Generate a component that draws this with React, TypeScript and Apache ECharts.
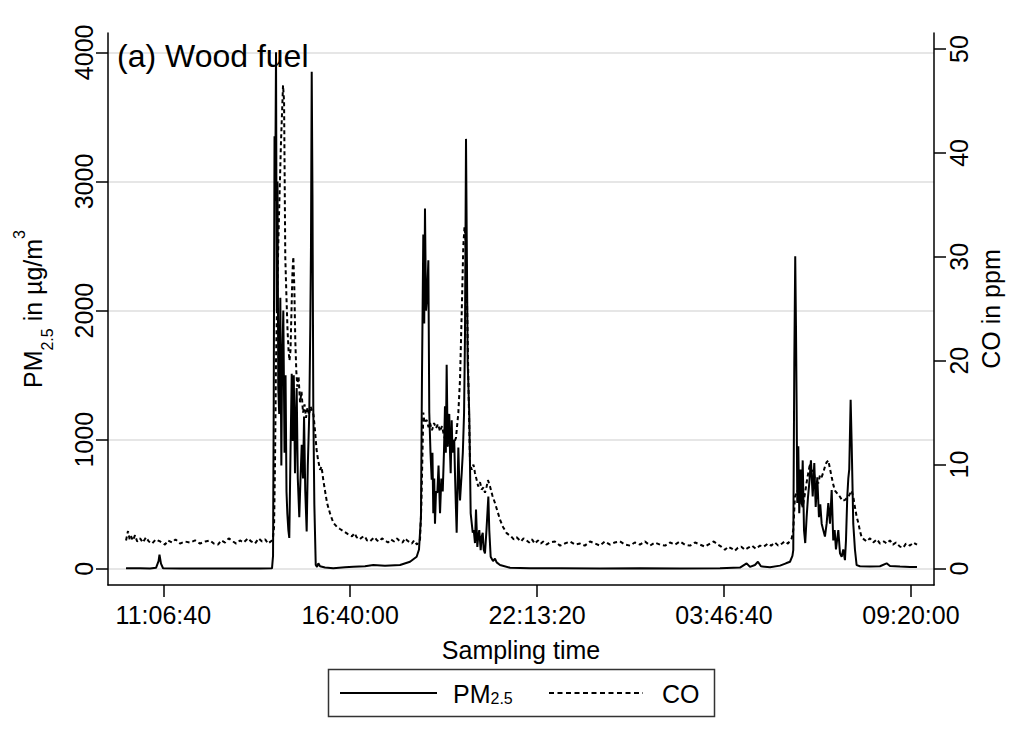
import React, { useEffect, useRef } from "react";
import * as echarts from "echarts";

const FONT = "'Liberation Sans', Arial, Helvetica, sans-serif";

// [sampling time in seconds after midnight of the first day (values above 86400 are on the next day), PM2.5 in µg/m3]
const pmPoints = [
  [36010, 5], [37510, 4], [38580, 3], [39220, 8], [39490, 60], [39590, 110], [39750, 40], [39970, 5],
  [41790, 3], [43930, 2], [47140, 3], [50350, 3], [51630, 4], [51740, 100], [51810, 1200], [51900, 3350],
  [51970, 2850], [52060, 4000], [52140, 2000], [52220, 3000], [52300, 1400], [52400, 1200], [52520, 2100],
  [52630, 800], [52700, 1500], [52840, 2000], [52970, 900], [53080, 1500], [53180, 600], [53270, 430],
  [53380, 300], [53480, 240], [53610, 900], [53740, 1510], [53850, 990], [53960, 1500], [54090, 740],
  [54200, 1200], [54270, 1400], [54390, 700], [54550, 400], [54680, 700], [54810, 960], [54950, 700],
  [55060, 1180], [55190, 600], [55340, 290], [55460, 800], [55620, 1210], [55730, 1900], [55800, 2490],
  [55880, 3850], [55960, 2900], [56050, 1240], [56160, 500], [56310, 30], [56450, 15], [56590, 43],
  [56770, 20], [57300, 10], [58190, 4], [59440, 12], [60330, 16], [61580, 20], [62470, 29], [63720, 25],
  [65330, 30], [66400, 55], [67110, 94], [67360, 150],
  [67570, 400], [67680, 1500], [67820, 2590], [67920, 1900], [68000, 2790], [68110, 2000], [68220, 2100],
  [68360, 2390], [68460, 1210], [68590, 900], [68720, 690], [68800, 900], [68890, 430], [68990, 700],
  [69070, 350], [69180, 600], [69320, 590], [69450, 800], [69610, 430], [69750, 700], [69900, 600],
  [70030, 900], [70140, 1260], [70230, 900], [70320, 1580], [70430, 950], [70520, 1100], [70600, 1200],
  [70680, 900], [70750, 740], [70860, 1150], [70940, 900], [71030, 950], [71130, 1000], [71210, 740],
  [71300, 500], [71390, 280], [71480, 600], [71570, 940], [71660, 700], [71750, 530], [71850, 650],
  [71930, 740], [72050, 900], [72180, 1200], [72280, 1800], [72390, 3330], [72470, 2550], [72570, 1600],
  [72740, 1200], [72890, 430], [73110, 280], [73220, 300], [73350, 200], [73460, 460], [73600, 170],
  [73700, 250], [73810, 300], [73960, 145], [74070, 250], [74180, 280], [74280, 150], [74420, 120],
  [74580, 300], [74780, 560], [74880, 300], [75030, 94], [75280, 60], [75490, 80], [75670, 50],
  [76030, 30], [77100, 9], [79240, 5], [82450, 4], [86730, 3], [91010, 4], [95290, 3], [99570, 5],
  [101710, 10], [102420, 43], [102780, 15], [103310, 30], [103630, 55], [103950, 20], [104920, 12],
  [105990, 25], [106630, 43], [107060, 55], [107320, 100],
  [107410, 145], [107520, 1590], [107620, 2420], [107700, 1880], [107770, 1260], [107840, 510],
  [107950, 950], [108050, 430], [108200, 770], [108310, 500], [108420, 840], [108560, 300], [108690, 200],
  [108840, 400], [108980, 550], [109120, 660], [109300, 840], [109490, 560], [109660, 820], [109810, 480],
  [109980, 710], [110160, 400], [110300, 500], [110450, 350], [110620, 300], [110800, 250], [110980, 350],
  [111160, 510], [111340, 350], [111520, 610], [111690, 220], [111840, 300], [111980, 150], [112230, 300],
  [112410, 120], [112590, 94], [112760, 150], [112940, 68], [113050, 220], [113190, 560], [113300, 700],
  [113400, 770], [113550, 1310], [113660, 970], [113830, 350], [114010, 150], [114190, 29], [114550, 20],
  [115620, 18], [116690, 20], [117400, 43], [117760, 22], [118830, 18], [119900, 15], [120650, 14],
];

// [sampling time in seconds, CO in ppm]
const coPoints = [
  [36010, 2.7], [36220, 3.6], [36400, 2.8], [36540, 3.1], [36750, 2.7], [36970, 3.2], [37200, 2.6],
  [37510, 2.9], [37800, 2.5], [38150, 3.0], [38450, 2.6], [38790, 2.4], [39200, 2.8], [39650, 2.6],
  [40180, 2.3], [40500, 2.7], [40930, 2.5], [41300, 2.8], [41790, 2.4], [42300, 2.6], [42860, 2.5],
  [43400, 2.7], [43930, 2.4], [44500, 2.6], [45000, 2.7], [45400, 2.4], [45850, 2.3], [46200, 2.7],
  [46600, 2.5], [47000, 2.9], [47460, 2.6], [47800, 2.4], [48210, 2.7], [48600, 2.5], [49060, 2.9],
  [49400, 2.6], [49810, 2.4], [50200, 2.9], [50560, 2.6], [50900, 2.8], [51200, 2.4], [51630, 2.7],
  [51740, 3.0], [51850, 4], [51950, 10], [52060, 20], [52220, 28], [52380, 34], [52590, 41], [52810, 46.5],
  [52920, 45], [53050, 30], [53180, 26], [53290, 23], [53400, 21], [53500, 20], [53610, 21], [53720, 25],
  [53820, 28.5], [53910, 30], [54020, 27], [54120, 22], [54230, 19], [54340, 17.5], [54470, 18.5],
  [54630, 16], [54790, 17], [54950, 15], [55110, 15.8], [55270, 14.5], [55430, 15.5], [55590, 14.8],
  [55750, 15.6], [55910, 15.2], [56070, 14.8], [56230, 13.3], [56390, 11.5], [56550, 10.5], [56770, 9.5],
  [56930, 9.8], [57120, 8.5], [57300, 7.5], [57520, 6.3], [57840, 5.3], [58190, 4.4], [58590, 4.0],
  [58910, 3.8], [59260, 3.6], [59760, 3.3], [60190, 3.1], [60450, 3.4], [60690, 3.0], [61000, 2.8],
  [61260, 3.0], [61550, 3.1], [61800, 2.7], [62100, 2.6], [62330, 2.8], [62600, 3.0], [62870, 2.7],
  [63100, 2.6], [63400, 2.9], [63700, 2.7], [64040, 2.5], [64350, 2.8], [64690, 2.6], [65000, 2.9],
  [65330, 2.6], [65600, 2.5], [65860, 2.9], [66100, 2.7], [66400, 2.5], [66600, 2.4], [66830, 2.7],
  [67150, 2.3], [67360, 2.6],
  [67470, 2.8], [67610, 6], [67730, 11], [67820, 15], [67950, 14], [68180, 14.3], [68380, 13.6],
  [68540, 14], [68750, 13.3], [68970, 14], [69180, 13.5], [69390, 13.9], [69610, 13.2], [69820, 13.7],
  [70030, 12.8], [70250, 12.2], [70460, 11.7], [70680, 12.3], [70890, 11.5], [71100, 12], [71320, 12.6],
  [71570, 15], [71750, 18.2], [71930, 24.6], [72100, 31], [72230, 32.9], [72340, 32], [72460, 27.8],
  [72640, 18.2], [72820, 10.1], [73000, 9.5], [73190, 10], [73350, 9.2], [73510, 8.6], [73700, 7.9],
  [73890, 8.3], [74070, 7.6], [74260, 7.8], [74420, 7.3], [74600, 7.9], [74740, 8.5], [74960, 7.9],
  [75220, 7], [75490, 6.3], [75760, 5.5], [76030, 4.7], [76350, 4], [76740, 3.4], [77200, 3.1],
  [77500, 2.8], [77810, 3.0], [78270, 2.6], [78550, 2.9], [78880, 2.7], [79150, 2.5], [79450, 2.8],
  [79750, 2.4], [80090, 2.7], [80400, 2.4], [80660, 2.6], [81000, 2.3], [81380, 2.5], [81900, 2.6],
  [82450, 2.2], [82950, 2.4], [83520, 2.6], [84050, 2.3], [84590, 2.4], [85100, 2.2], [85660, 2.6],
  [86200, 2.4], [86730, 2.2], [87250, 2.6], [87800, 2.3], [88300, 2.5], [88870, 2.6], [89400, 2.3],
  [89940, 2.2], [90450, 2.5], [91010, 2.3], [91550, 2.6], [92080, 2.2], [92600, 2.5], [93150, 2.3],
  [93700, 2.2], [94220, 2.5], [94750, 2.3], [95290, 2.6], [95800, 2.3], [96360, 2.2], [96900, 2.5],
  [97430, 2.3], [97950, 2.1], [98500, 2.4], [98900, 2.6], [99350, 2.3], [99700, 2.1], [100100, 1.8],
  [100450, 2.1], [100850, 1.9], [101150, 1.7], [101490, 2.0], [101850, 2.1], [102240, 1.8], [102600, 2.0],
  [102990, 2.2], [103400, 1.9], [103850, 2.2], [104250, 2.1], [104700, 2.4], [105050, 2.2], [105450, 2.5],
  [105800, 2.2], [106200, 2.4], [106500, 2.6], [106840, 2.4], [107240, 2.9],
  [107410, 3.7], [107590, 6.9], [107840, 7.5], [108130, 6.9], [108420, 5.9], [108660, 7.2], [108880, 8.5],
  [109200, 10.1], [109360, 9.0], [109550, 9.5], [109730, 8.6], [110090, 8.2], [110270, 9.0], [110450, 8.8],
  [110640, 9.3], [110800, 9.8], [110960, 10.2], [111160, 10.4], [111340, 9.6], [111520, 8.8], [111710, 8.0],
  [111870, 7.5], [112140, 7.2], [112410, 6.9], [112670, 6.5], [112940, 6.6], [113300, 6.9], [113660, 7.5],
  [113850, 6.8], [114010, 5.9], [114190, 5.0], [114370, 4.4], [114550, 3.6], [114730, 3.0], [114980, 2.8],
  [115260, 2.6], [115620, 2.9], [115970, 2.5], [116370, 2.8], [116690, 2.4], [117120, 2.6], [117400, 2.4],
  [117760, 2.7], [118080, 2.3], [118400, 2.5], [118830, 2.1], [119180, 2.0], [119470, 2.4], [119900, 2.2],
  [120250, 2.5], [120650, 2.3],
];

const xTicks = [40000, 60000, 80000, 100000, 120000];
const pmTicks = [0, 1000, 2000, 3000, 4000];
const coTicks = [0, 10, 20, 30, 40, 50];

const titleText = "(a) Wood fuel";
const xTitle = "Sampling time";
const pmTitle = "PM{sub|2.5} in µg/m{sup|3}";
const coTitle = "CO in ppm";
const pmLegend = "PM{sub|2.5}";
const coLegend = "CO";

const pad = (n: number) => (n < 10 ? "0" + n : "" + n);
const fmtTime = (v: number) => {
  const s = ((Math.round(v) % 86400) + 86400) % 86400;
  return pad(Math.floor(s / 3600)) + ":" + pad(Math.floor((s % 3600) / 60)) + ":" + pad(s % 60);
};

export default function App() {
  const ref = useRef<HTMLDivElement>(null);
  useEffect(() => {
    if (!ref.current) return;
    const chart = echarts.init(ref.current, undefined, { renderer: "svg" });
    const axisColor = "#000";
    chart.setOption({
      animation: false,
      backgroundColor: "#fff",
      textStyle: { fontFamily: FONT, color: "#000" },
      grid: { left: 108, top: 33, width: 826, height: 552, containLabel: false },
      xAxis: {
        type: "value",
        min: 34080,
        max: 122470,
        name: xTitle,
        nameLocation: "middle",
        nameGap: 52,
        nameTextStyle: { fontSize: 25, fontFamily: FONT, color: "#000" },
        axisLine: { show: true, onZero: false, lineStyle: { color: axisColor, width: 1.5 } },
        axisTick: { show: true, length: 12, customValues: xTicks, lineStyle: { color: axisColor, width: 1.5 } },
        axisLabel: {
          customValues: xTicks,
          formatter: (v: number) => fmtTime(v),
          fontSize: 25,
          fontFamily: FONT,
          color: "#000",
          margin: 17,
        },
        splitLine: { show: false },
      },
      yAxis: [
        {
          type: "value",
          min: -125,
          max: 4150,
          position: "left",
          name: pmTitle,
          nameLocation: "middle",
          nameRotate: 90,
          nameGap: 53,
          nameTextStyle: {
            fontSize: 25,
            fontFamily: FONT,
            color: "#000",
            lineHeight: 44,
            rich: {
              sub: { fontSize: 16, fontFamily: FONT, color: "#000", lineHeight: 35, verticalAlign: "bottom" },
              sup: { fontSize: 16, fontFamily: FONT, color: "#000", lineHeight: 16, verticalAlign: "top" },
            },
          },
          axisLine: { show: true, onZero: false, lineStyle: { color: axisColor, width: 1.5 } },
          axisTick: { show: true, length: 12, customValues: pmTicks, lineStyle: { color: axisColor, width: 1.5 } },
          axisLabel: {
            customValues: pmTicks,
            formatter: (v: number) => String(v),
            rotate: 90,
            fontSize: 25,
            fontFamily: FONT,
            color: "#000",
            margin: 12,
          },
          splitLine: { show: true, lineStyle: { color: "#e6e6e6", width: 2 } },
        },
        {
          type: "value",
          min: -1.59,
          max: 51.54,
          position: "right",
          name: coTitle,
          nameLocation: "middle",
          nameRotate: 90,
          nameGap: 44,
          nameTextStyle: { fontSize: 25, fontFamily: FONT, color: "#000" },
          axisLine: { show: true, onZero: false, lineStyle: { color: axisColor, width: 1.5 } },
          axisTick: { show: true, length: 12, customValues: coTicks, lineStyle: { color: axisColor, width: 1.5 } },
          axisLabel: {
            customValues: coTicks,
            formatter: (v: number) => String(v),
            rotate: 90,
            fontSize: 25,
            fontFamily: FONT,
            color: "#000",
            margin: 12,
          },
          splitLine: { show: false },
        },
      ],
      series: [
        {
          name: "PM2.5",
          type: "line",
          yAxisIndex: 0,
          data: pmPoints,
          showSymbol: false,
          symbol: "none",
          lineStyle: { color: "#000", width: 2 },
          z: 3,
        },
        {
          name: "CO",
          type: "line",
          yAxisIndex: 1,
          data: coPoints,
          showSymbol: false,
          symbol: "none",
          lineStyle: { color: "#000", width: 2, type: [4, 3] },
          z: 2,
        },
      ],
      graphic: [
        {
          type: "text",
          x: 117,
          y: 56,
          z: 1,
          style: {
            text: titleText,
            fontSize: 32,
            fontFamily: FONT,
            fill: "#000",
            align: "left",
            verticalAlign: "middle",
          },
        },
        {
          type: "group",
          children: [
            {
              type: "rect",
              shape: { x: 328.5, y: 669.5, width: 386, height: 47 },
              style: { fill: "#fff", stroke: "#333", lineWidth: 1.5 },
            },
            {
              type: "line",
              shape: { x1: 340, y1: 693, x2: 437, y2: 693 },
              style: { stroke: "#000", lineWidth: 2 },
            },
            {
              type: "text",
              x: 453,
              y: 694,
              style: {
                text: pmLegend,
                fontSize: 25,
                fontFamily: FONT,
                fill: "#000",
                align: "left",
                verticalAlign: "middle",
                rich: {
                  sub: { fontSize: 16, fontFamily: FONT, fill: "#000", lineHeight: 16, verticalAlign: "bottom" },
                },
              },
            },
            {
              type: "line",
              shape: { x1: 549, y1: 693, x2: 643, y2: 693 },
              style: { stroke: "#000", lineWidth: 2, lineDash: [5, 3.5] },
            },
            {
              type: "text",
              x: 662,
              y: 694,
              style: {
                text: coLegend,
                fontSize: 25,
                fontFamily: FONT,
                fill: "#000",
                align: "left",
                verticalAlign: "middle",
              },
            },
          ],
        },
      ],
    });
    return () => chart.dispose();
  }, []);
  return (
    <div
      ref={ref}
      style={{ position: "absolute", left: 0, top: 0, width: 1028, height: 747, background: "#fff" }}
    />
  );
}
